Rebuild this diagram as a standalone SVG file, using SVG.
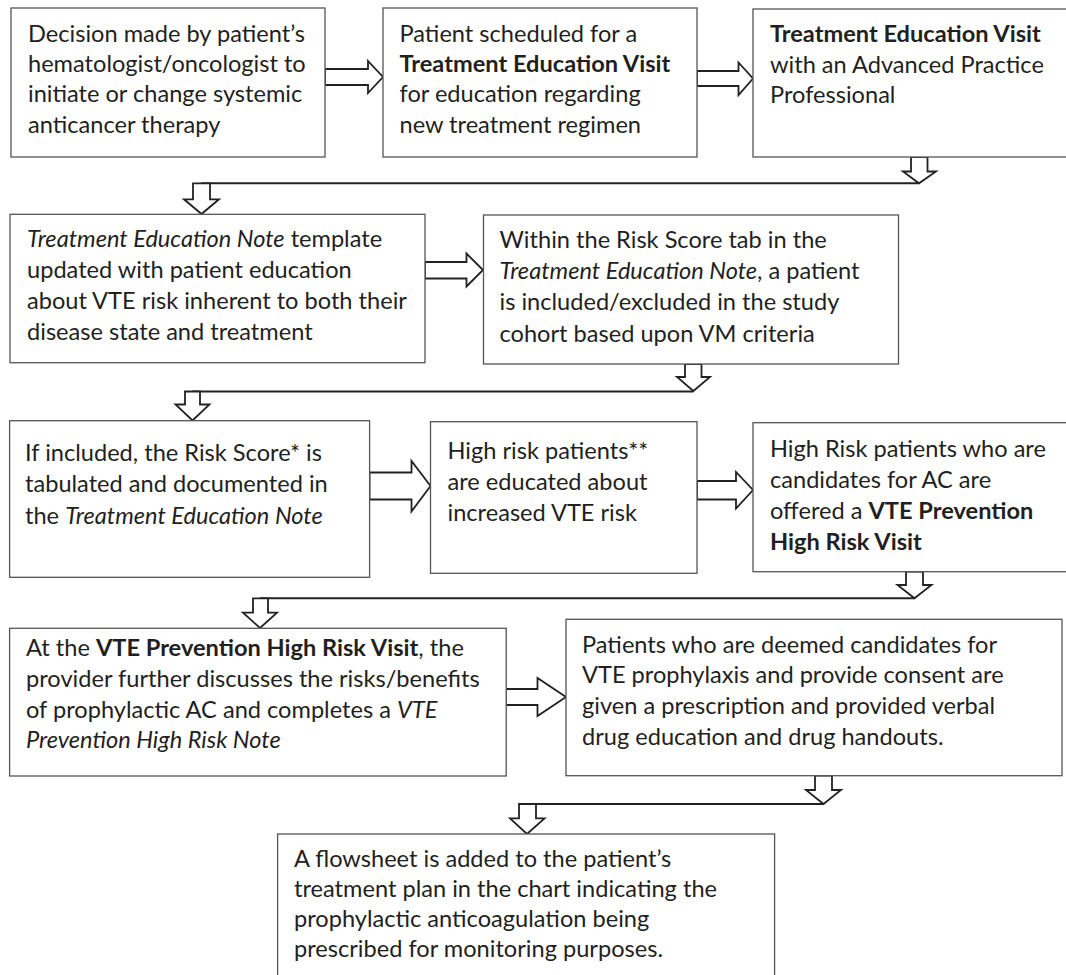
<svg xmlns="http://www.w3.org/2000/svg" width="1066" height="975" viewBox="0 0 1066 975">
<style>
.box{fill:#fff;stroke:#555;stroke-width:1.3}
.t{font-family:Lato,"Liberation Sans",sans-serif;font-size:23.6px;fill:#231f20}
.b{font-weight:bold}
.i{font-style:italic}
.arr{fill:#fff;stroke:#222;stroke-width:1.8;stroke-linejoin:miter}
.ln{fill:none;stroke:#222;stroke-width:2}
</style>
<rect width="1066" height="975" fill="#fff"/>
<g id="connectors">
<polygon class="arr" points="325,69 368,69 368,61 383,77 368,93 368,85 325,85"/>
<polygon class="arr" points="697,71 738.5,71 738.5,62.5 753,78.5 738.5,95 738.5,86 697,86"/>
<polygon class="arr" points="425,262 466.5,262 466.5,253.5 483,270 466.5,286.5 466.5,278.5 425,278.5"/>
<polygon class="arr" points="369.5,472.5 411.5,472.5 411.5,461 430.5,486 411.5,511.5 411.5,499.5 369.5,499.5"/>
<polygon class="arr" points="697,481 736,481 736,472 753,490 736,508.5 736,499.5 697,499.5"/>
<polygon class="arr" points="506,689 537.5,689 537.5,678 566,697 537.5,716 537.5,705 506,705"/>
<line class="ln" x1="201.5" y1="183.3" x2="919" y2="183.3"/>
<line class="ln" x1="192.5" y1="391.5" x2="693.4" y2="391.5"/>
<line class="ln" x1="260" y1="598.3" x2="914.5" y2="598.3"/>
<line class="ln" x1="527" y1="804" x2="823.5" y2="804"/>
<polygon class="arr" points="911,157 927.5,157 927.5,171.5 936,171.5 919,183.3 903,171.5 911,171.5"/>
<polygon class="arr" points="685,364 701.5,364 701.5,377 710,377 693.4,391 677,377 685,377"/>
<polygon class="arr" points="906,571.7 923,571.7 923,585 931.5,585 914.5,598.3 897.5,585 906,585"/>
<polygon class="arr" points="815,775.7 832,775.7 832,790 841,790 823.5,804 806,790 815,790"/>
<polygon class="arr" points="193,183.3 210,183.3 210,199.3 219,199.3 201.5,214 184,199.3 193,199.3"/>
<polygon class="arr" points="185,391.5 200,391.5 200,404.5 209.5,404.5 192.5,420.5 175.5,404.5 185,404.5"/>
<polygon class="arr" points="253,598.3 268,598.3 268,612.7 277,612.7 260,628 243,612.7 253,612.7"/>
<polygon class="arr" points="519,804 536,804 536,818.3 544.5,818.3 527,834 510,818.3 519,818.3"/>
</g>
<g id="n1">
<rect class="box" x="11" y="8" width="314" height="149"/>
<text class="t" x="28" y="41.7">Decision made by patient’s</text>
<text class="t" x="28" y="72">hematologist/oncologist to</text>
<text class="t" x="28" y="102.3">initiate or change systemic</text>
<text class="t" x="28" y="132.6">anticancer therapy</text>
</g>
<g id="n2">
<rect class="box" x="383" y="8" width="314" height="149"/>
<text class="t" x="399.5" y="41.7">Patient scheduled for a</text>
<text class="t b" x="399.5" y="72">Treatment Education Visit</text>
<text class="t" x="399.5" y="102.3">for education regarding</text>
<text class="t" x="399.5" y="132.6">new treatment regimen</text>
</g>
<g id="n3">
<rect class="box" x="753" y="9" width="330" height="148"/>
<text class="t b" x="770" y="41.7">Treatment Education Visit</text>
<text class="t" x="770" y="72.5">with an Advanced Practice</text>
<text class="t" x="770" y="103">Professional</text>
</g>
<g id="n4">
<rect class="box" x="10" y="214.3" width="415" height="148.4"/>
<text class="t" x="27" y="246.7"><tspan class="i">Treatment Education Note</tspan> template</text>
<text class="t" x="27" y="277.5">updated with patient education</text>
<text class="t" x="27" y="308.5">about VTE risk inherent to both their</text>
<text class="t" x="27" y="339.5">disease state and treatment</text>
</g>
<g id="n5">
<rect class="box" x="483.5" y="215" width="415" height="149"/>
<text class="t" x="499.5" y="248.3">Within the Risk Score tab in the</text>
<text class="t" x="499.5" y="279.3"><tspan class="i">Treatment Education Note</tspan>, a patient</text>
<text class="t" x="499.5" y="310">is included/excluded in the study</text>
<text class="t" x="499.5" y="341.7">cohort based upon VM criteria</text>
</g>
<g id="n7">
<rect class="box" x="9.6" y="420.7" width="360" height="156.6"/>
<text class="t" x="25" y="461">If included, the Risk Score* is</text>
<text class="t" x="25" y="492">tabulated and documented in</text>
<text class="t" x="25" y="523.5">the <tspan class="i">Treatment Education Note</tspan></text>
</g>
<g id="n8">
<rect class="box" x="430.5" y="421.7" width="266.5" height="151.6"/>
<text class="t" x="447.5" y="459">High risk patients**</text>
<text class="t" x="447.5" y="490">are educated about</text>
<text class="t" x="447.5" y="521">increased VTE risk</text>
</g>
<g id="n9">
<rect class="box" x="753" y="422.7" width="330" height="149"/>
<text class="t" x="770" y="457.3">High Risk patients who are</text>
<text class="t" x="770" y="488.3">candidates for AC are</text>
<text class="t" x="770" y="519">offered a <tspan class="b">VTE Prevention</tspan></text>
<text class="t b" x="770" y="550">High Risk Visit</text>
</g>
<g id="n10">
<rect class="box" x="9.6" y="628.3" width="496.6" height="147.7"/>
<text class="t" x="26" y="656">At the <tspan class="b">VTE Prevention High Risk Visit</tspan>, the</text>
<text class="t" x="26" y="686.7">provider further discusses the risks/benefits</text>
<text class="t" x="26" y="717.7">of prophylactic AC and completes a <tspan class="i">VTE</tspan></text>
<text class="t i" x="26" y="748.3">Prevention High Risk Note</text>
</g>
<g id="n11">
<rect class="box" x="566" y="619.3" width="496" height="156.4"/>
<text class="t" x="582" y="652.7">Patients who are deemed candidates for</text>
<text class="t" x="582" y="683.3">VTE prophylaxis and provide consent are</text>
<text class="t" x="582" y="714">given a prescription and provided verbal</text>
<text class="t" x="582" y="745">drug education and drug handouts.</text>
</g>
<g id="n12">
<rect class="box" x="277.6" y="834" width="497" height="160"/>
<text class="t" x="294" y="866.7">A flowsheet is added to the patient’s</text>
<text class="t" x="294" y="896.7">treatment plan in the chart indicating the</text>
<text class="t" x="294" y="926.7">prophylactic anticoagulation being</text>
<text class="t" x="294" y="957.3">prescribed for monitoring purposes.</text>
</g>
</svg>
